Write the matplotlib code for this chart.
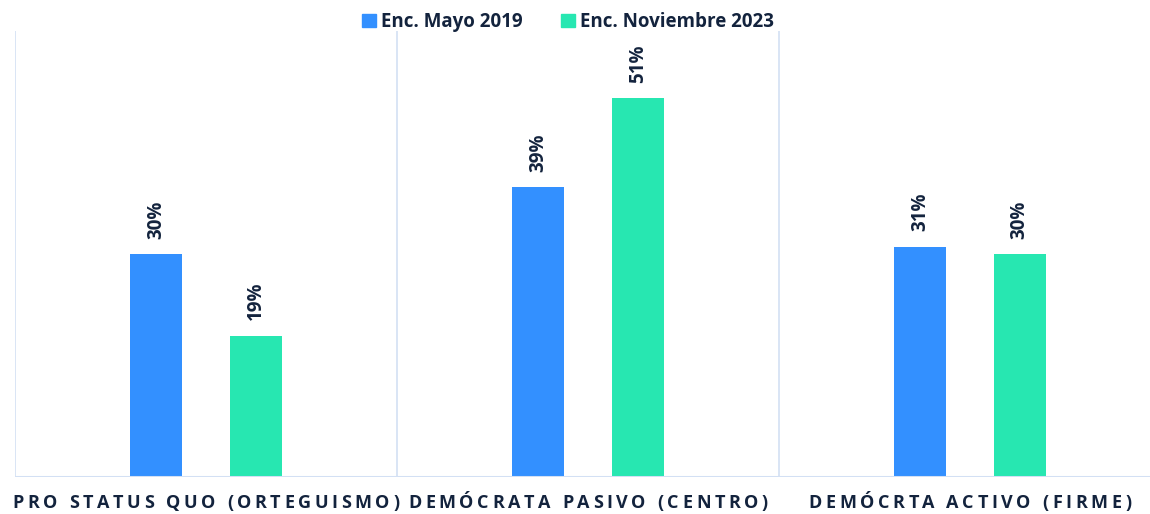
import matplotlib
matplotlib.use("Agg")
import matplotlib.pyplot as plt
import numpy as np
from matplotlib.patches import Rectangle

# datos
categorias = ["PRO STATUS QUO (ORTEGUISMO)", "DEMÓCRATA PASIVO (CENTRO)", "DEMÓCRTA ACTIVO (FIRME)"]
series = ["Enc. Mayo 2019", "Enc. Noviembre 2023"]
mayo_2019 = [30, 39, 31]
nov_2023 = [19, 51, 30]

colores = ["#3390FF", "#27E7B1"]
texto = "#13233D"
grid_col = "#D3E0F4"

plt.rcParams["font.family"] = ["Open Sans", "DejaVu Sans"]

fig = plt.figure(figsize=(11.5, 5.14), dpi=100)
W, H = 1150, 514
# el eje se extiende un poco fuera de la figura a la derecha
ax = fig.add_axes([15 / W, 37 / H, 1146 / W, 446 / H])

x = np.arange(len(categorias))
ancho = 0.136
desp = 0.13
for i, (vals, col) in enumerate(zip([mayo_2019, nov_2023], colores)):
    pos = x + (-desp if i == 0 else desp)
    ax.bar(pos, vals, width=ancho, color=col, zorder=2)
    for p, v in zip(pos, vals):
        ax.annotate(f"{v}%", (p, v), xytext=(0, 11), textcoords="offset points",
                    rotation=90, ha="center", va="bottom", fontsize=13.5,
                    fontweight="bold", color=texto)

ax.set_xlim(-0.5, 2.5)
ax.set_ylim(0, 60)
for xv in [-0.5, 0.5, 1.5, 2.5]:
    ax.axvline(xv, color=grid_col, lw=1.2, zorder=1)
ax.axhline(0, color=grid_col, lw=2.2, zorder=3)
for s in ax.spines.values():
    s.set_visible(False)
ax.set_xticks([])
ax.set_yticks([])

# leyenda manual
handles = [Rectangle((0, 0), 1, 1, color=c) for c in colores]
fig.legend(handles, series, loc="center", bbox_to_anchor=(568 / W, 1 - 22 / H),
           ncol=2, frameon=False, handlelength=0.75, handleheight=0.75,
           handletextpad=0.3, columnspacing=2.0,
           prop={"weight": "bold", "size": 13.5}, labelcolor=texto)

# etiquetas de categoria con espaciado entre letras
fig.canvas.draw()
renderer = fig.canvas.get_renderer()
espacio = 3.6
y_lab = 1 - 503 / H
for i, cat in enumerate(categorias):
    centro = ax.transData.transform((x[i], 0))[0]
    anchos = []
    for ch in cat:
        t = fig.text(0, 0, ch.replace(" ", "\u00a0"), fontsize=13, fontweight="bold")
        anchos.append(t.get_window_extent(renderer).width)
        t.remove()
    total = sum(anchos) + espacio * (len(cat) - 1)
    xp = centro - total / 2
    for ch, w in zip(cat, anchos):
        if ch != " ":
            fig.text(xp / W, y_lab, ch, fontsize=13, fontweight="bold",
                     color=texto, ha="left", va="center")
        xp += w + espacio

fig.savefig("out.png", dpi=100)
